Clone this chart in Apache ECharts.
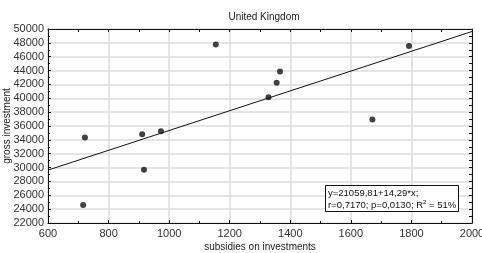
<!DOCTYPE html>
<html><head><meta charset="utf-8">
<script src="https://cdn.jsdelivr.net/npm/echarts@6/dist/echarts.min.js"></script>
<style>html,body{margin:0;padding:0;background:#fff}#c{width:482px;height:253px}</style>
</head><body><div id="c"></div>
<script>
var subsidies = [716, 722, 911, 917, 973, 1154, 1366, 1355, 1328, 1792, 1671];
var grossInvestment = [24600, 34350, 34800, 29700, 35250, 47750, 43850, 42250, 40150, 47550, 36950];
var intercept = 21059.81;
var slope = 14.29;
var lineX = [600, 2000];
var lineY = lineX.map(function(x){ return intercept + slope * x; });
var xTicks = [600, 800, 1000, 1200, 1400, 1600, 1800, 2000];
var yTicks = [22000, 24000, 26000, 28000, 30000, 32000, 34000, 36000, 38000, 40000, 42000, 44000, 46000, 48000, 50000];

var chart = echarts.init(document.getElementById('c'), null, {renderer: 'canvas'});
var font = 'Liberation Sans, Arial, sans-serif';
var scatterData = subsidies.map(function(x, i){ return [x, grossInvestment[i]]; });
var lineData = lineX.map(function(x, i){ return [x, lineY[i]]; });
function plain(v){ return String(v); }
chart.setOption({
  animation: false,
  title: {text: 'United Kingdom', left: 259, top: 7, textAlign: 'center',
    textStyle: {fontFamily: font, fontSize: 10, fontWeight: 'normal', color: '#222'}},
  grid: {left: 48, right: 10, top: 29, bottom: 30, containLabel: false, outerBoundsMode: 'none'},
  xAxis: [{
    type: 'value', min: xTicks[0], max: xTicks[xTicks.length-1], interval: 200, position: 'bottom',
    name: 'subsidies on investments', nameLocation: 'middle', nameGap: 19, nameMoveOverlap: false,
    nameTextStyle: {fontFamily: font, fontSize: 10, color: '#222'},
    axisLine: {show: true, lineStyle: {color: '#111', width: 1}},
    axisTick: {show: true, inside: true, length: 3, lineStyle: {color: '#111'}},
    minorTick: {show: true, splitNumber: 2, length: 2, lineStyle: {color: '#111'}},
    axisLabel: {fontFamily: font, fontSize: 11, color: '#333', margin: 5, formatter: plain},
    splitLine: {show: true, lineStyle: {color: '#dcdcdc', width: 1.5}}
  }, {
    type: 'value', min: 600, max: 2000, interval: 100, position: 'top',
    axisLine: {show: true, lineStyle: {color: '#111', width: 1}},
    axisTick: {show: true, inside: true, length: 3, lineStyle: {color: '#111'}},
    axisLabel: {show: false}, splitLine: {show: false}
  }],
  yAxis: [{
    type: 'value', min: yTicks[0], max: yTicks[yTicks.length-1], interval: 2000, position: 'left',
    name: 'gross investment', nameLocation: 'middle', nameGap: 36, nameRotate: 90, nameMoveOverlap: false,
    nameTextStyle: {fontFamily: font, fontSize: 10, color: '#222'},
    axisLine: {show: true, lineStyle: {color: '#111', width: 1}},
    axisTick: {show: true, inside: true, length: 3, lineStyle: {color: '#111'}},
    minorTick: {show: true, splitNumber: 2, length: 2, lineStyle: {color: '#111'}},
    axisLabel: {fontFamily: font, fontSize: 11, color: '#333', margin: 4, formatter: plain},
    splitLine: {show: true, lineStyle: {color: '#dcdcdc', width: 1.5}}
  }, {
    type: 'value', min: 22000, max: 50000, interval: 1000, position: 'right',
    axisLine: {show: true, lineStyle: {color: '#111', width: 1}},
    axisTick: {show: true, inside: true, length: 3, lineStyle: {color: '#111'}},
    axisLabel: {show: false}, splitLine: {show: false}
  }],
  series: [{
    type: 'line', data: lineData, symbol: 'none', silent: true,
    lineStyle: {color: '#111', width: 1}
  }, {
    type: 'scatter', data: scatterData, symbol: 'circle', symbolSize: 6,
    itemStyle: {color: '#111'}
  }],
  graphic: [{
    type: 'rect', left: 325, top: 185, shape: {width: 133, height: 26},
    style: {fill: '#fff', stroke: '#111', lineWidth: 1}, z: 100
  }, {
    type: 'text', left: 328, top: 187, z: 101,
    style: {
      text: 'y=21059,81+14,29*x;\nr=0,7170; p=0,0130; R{sup|2} = 51%',
      font: '9.5px ' + font, fill: '#111', lineHeight: 12,
      rich: {sup: {fontSize: 6, verticalAlign: 'top', lineHeight: 12, padding: [0,0,5,0]}}
    }
  }]
});
</script></body></html>
